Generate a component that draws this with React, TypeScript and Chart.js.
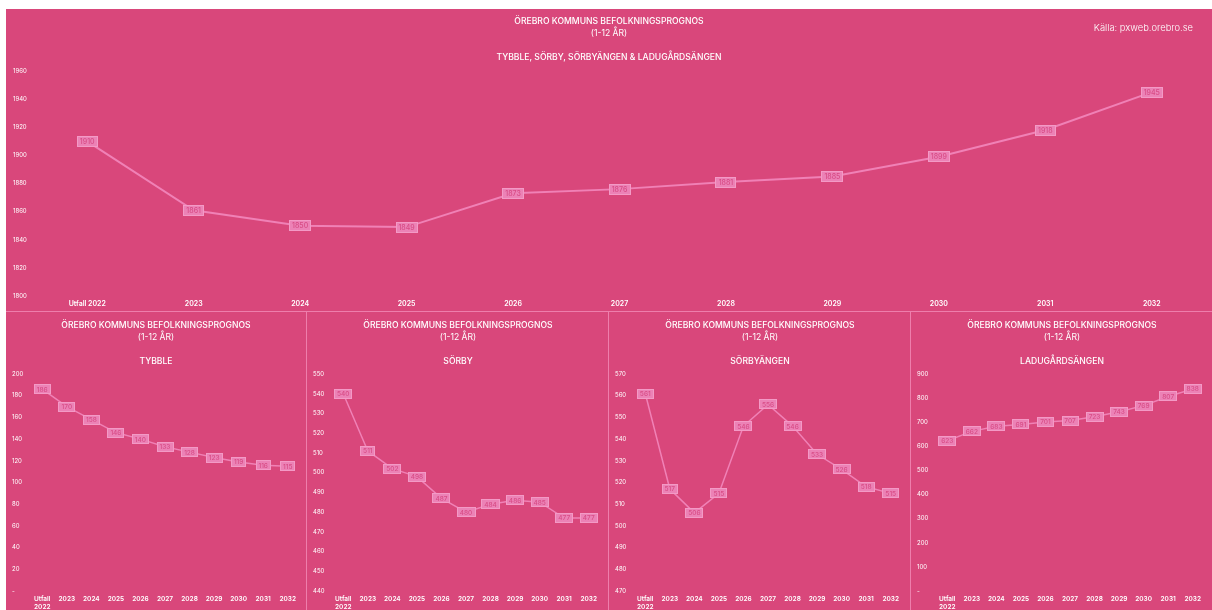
import React, { useEffect, useRef } from 'react';
import { Chart, registerables } from 'chart.js';

Chart.register(...registerables);

const FONT = 'Inter, "Noto Sans", sans-serif';

// ---- data ----
const yearLabels = ['Utfall 2022', '2023', '2024', '2025', '2026', '2027', '2028', '2029', '2030', '2031', '2032'];
const yearLabelsSmall = [['Utfall', '2022'], '2023', '2024', '2025', '2026', '2027', '2028', '2029', '2030', '2031', '2032'];

const totalValues = [1910, 1861, 1850, 1849, 1873, 1876, 1881, 1885, 1899, 1918, 1945];
const tybbleValues = [186, 170, 158, 146, 140, 133, 128, 123, 119, 116, 115];
const sorbyValues = [540, 511, 502, 498, 487, 480, 484, 486, 485, 477, 477];
const sorbyangenValues = [561, 517, 506, 515, 546, 556, 546, 533, 526, 518, 515];
const ladugardsangenValues = [623, 662, 683, 691, 701, 707, 723, 743, 769, 807, 838];

const mainTitle = 'ÖREBRO KOMMUNS BEFOLKNINGSPROGNOS';
const subTitle = '(1-12 ÅR)';
const sourceText = 'Källa: pxweb.orebro.se';

// ---- colors ----
const BG = '#d9477b';
const LINE = '#f081b6';
const BOX_FILL = '#ec82b6';
const BOX_BORDER = '#f39ac6';
const BOX_TEXT = '#d84c86';
const SEP = 'rgba(242,140,185,0.8)';

const boxLabels = {
  id: 'boxLabels',
  afterDatasetsDraw(chart: any, _args: any, opts: any) {
    const ctx = chart.ctx;
    const meta = chart.getDatasetMeta(0);
    const ds = chart.data.datasets[0];
    ctx.save();
    ctx.font = `500 ${opts.size}px ${FONT}`;
    ctx.textAlign = 'center';
    ctx.textBaseline = 'middle';
    meta.data.forEach((pt: any, i: number) => {
      const text = String(ds.data[i]);
      const w = Math.round(ctx.measureText(text).width + opts.padX * 2);
      const h = opts.h;
      const x = Math.round(pt.x - w / 2);
      const y = Math.round(pt.y - h / 2);
      ctx.fillStyle = BOX_FILL;
      ctx.fillRect(x, y, w, h);
      ctx.strokeStyle = BOX_BORDER;
      ctx.lineWidth = 1;
      ctx.strokeRect(x + 0.5, y + 0.5, w - 1, h - 1);
      ctx.fillStyle = BOX_TEXT;
      ctx.fillText(text, pt.x, pt.y + 0.5);
    });
    ctx.restore();
  },
};

type ChartProps = {
  width: number;
  height: number;
  labels: any[];
  values: number[];
  min: number;
  max: number;
  step: number;
  pad: { left: number; right: number; top: number; bottom: number };
  yWidth: number;
  xHeight: number;
  xPad: number;
  tickSize: number;
  xTickSize: number;
  lineWidth: number;
  boxSize: number;
  boxH: number;
  boxPadX: number;
};

function LineChart(p: ChartProps) {
  const ref = useRef<HTMLCanvasElement | null>(null);
  useEffect(() => {
    if (!ref.current) return;
    const chart = new Chart(ref.current, {
      type: 'line',
      data: {
        labels: p.labels,
        datasets: [
          {
            data: p.values,
            borderColor: LINE,
            borderWidth: p.lineWidth,
            pointRadius: 0,
            tension: 0,
            fill: false,
          },
        ],
      },
      options: {
        responsive: false,
        animation: false,
        layout: { padding: p.pad },
        plugins: {
          legend: { display: false },
          tooltip: { enabled: false },
          title: { display: false },
          boxLabels: { size: p.boxSize, h: p.boxH, padX: p.boxPadX },
        } as any,
        scales: {
          x: {
            offset: true,
            grid: { display: false, drawTicks: false },
            border: { display: false },
            ticks: {
              color: '#ffffff',
              font: { family: FONT, size: p.xTickSize, weight: 600 as any, lineHeight: 1.2 },
              padding: p.xPad,
              maxRotation: 0,
              autoSkip: false,
            },
            afterFit: (s: any) => {
              s.height = p.xHeight;
            },
          },
          y: {
            min: p.min,
            max: p.max,
            grid: { display: false, drawTicks: false },
            border: { display: false },
            ticks: {
              stepSize: p.step,
              color: '#ffffff',
              crossAlign: 'far',
              font: { family: FONT, size: p.tickSize },
              callback: (v: any) => (Number(v) === 0 ? '-' : String(v)),
            },
            afterFit: (s: any) => {
              s.width = p.yWidth;
            },
          },
        },
      },
      plugins: [boxLabels as any],
    });
    return () => chart.destroy();
  }, []);
  return (
    <canvas
      ref={ref}
      width={p.width}
      height={p.height}
      style={{ position: 'absolute', left: 0, top: 0, width: p.width, height: p.height }}
    />
  );
}

function TextLine({ text, top, size, weight, width }: { text: string; top: number; size: number; weight: number; width: number }) {
  return (
    <div
      style={{
        position: 'absolute',
        left: 0,
        top,
        width,
        textAlign: 'center',
        fontSize: size,
        lineHeight: '12px',
        fontWeight: weight,
        color: '#ffffff',
        whiteSpace: 'nowrap',
        fontFamily: FONT,
      }}
    >
      {text}
    </div>
  );
}

function SmallPanel({ left, width, title, values, min, max, step }: { left: number; width: number; title: string; values: number[]; min: number; max: number; step: number }) {
  const height = 320;
  return (
    <div style={{ position: 'absolute', left, top: 312, width, height, borderLeft: left > 6 ? `1px solid ${SEP}` : 'none', boxSizing: 'border-box' }}>
      <LineChart
        width={width}
        height={height}
        labels={yearLabelsSmall}
        values={values}
        min={min}
        max={max}
        step={step}
        pad={{ left: 6, right: width - 294, top: 62, bottom: height - 279 - 26 }}
        yWidth={18}
        xHeight={26}
        xPad={4}
        tickSize={6}
        xTickSize={6.5}
        lineWidth={1.5}
        boxSize={6.5}
        boxH={10}
        boxPadX={3}
      />
      <TextLine text={mainTitle} top={7} size={8.6} weight={500} width={width} />
      <TextLine text={subTitle} top={19} size={8.6} weight={400} width={width} />
      <TextLine text={title} top={43} size={8.6} weight={500} width={width} />
    </div>
  );
}

export default function App() {
  const topW = 1206;
  const topH = 302;
  return (
    <div style={{ position: 'fixed', left: 0, top: 0, right: 0, bottom: 0, overflow: 'hidden', background: '#ffffff' }}>
      <div style={{ position: 'absolute', left: 6, top: 9, width: topW, height: 640, background: BG, overflow: 'hidden' }}>
        <div style={{ position: 'absolute', left: 0, top: 0, width: topW, height: topH }}>
          <LineChart
            width={topW}
            height={topH}
            labels={yearLabels}
            values={totalValues}
            min={1800}
            max={1960}
            step={20}
            pad={{ left: 7, right: topW - 1199, top: 62, bottom: topH - 287 - 15 }}
            yWidth={21}
            xHeight={15}
            xPad={4}
            tickSize={6}
            xTickSize={7}
            lineWidth={2}
            boxSize={7}
            boxH={11}
            boxPadX={3}
          />
          <TextLine text={mainTitle} top={6} size={8.6} weight={500} width={topW} />
          <TextLine text={subTitle} top={18} size={8.6} weight={400} width={topW} />
          <TextLine text="TYBBLE, SÖRBY, SÖRBYÄNGEN & LADUGÅRDSÄNGEN" top={42} size={8.6} weight={500} width={topW} />
          <div
            style={{
              position: 'absolute',
              right: 19,
              top: 13,
              fontSize: 9.4,
              lineHeight: '12px',
              fontWeight: 300,
              color: '#ffffff',
              fontFamily: FONT,
              whiteSpace: 'nowrap',
            }}
          >
            {sourceText}
          </div>
        </div>
        <div style={{ position: 'absolute', left: 0, top: 302, width: topW, height: 1, background: SEP }} />
      </div>
      <SmallPanel left={6} width={300} title="TYBBLE" values={tybbleValues} min={0} max={200} step={20} />
      <SmallPanel left={306} width={302} title="SÖRBY" values={sorbyValues} min={440} max={550} step={10} />
      <SmallPanel left={608} width={302} title="SÖRBYÄNGEN" values={sorbyangenValues} min={470} max={570} step={10} />
      <SmallPanel left={910} width={302} title="LADUGÅRDSÄNGEN" values={ladugardsangenValues} min={0} max={900} step={100} />
    </div>
  );
}
